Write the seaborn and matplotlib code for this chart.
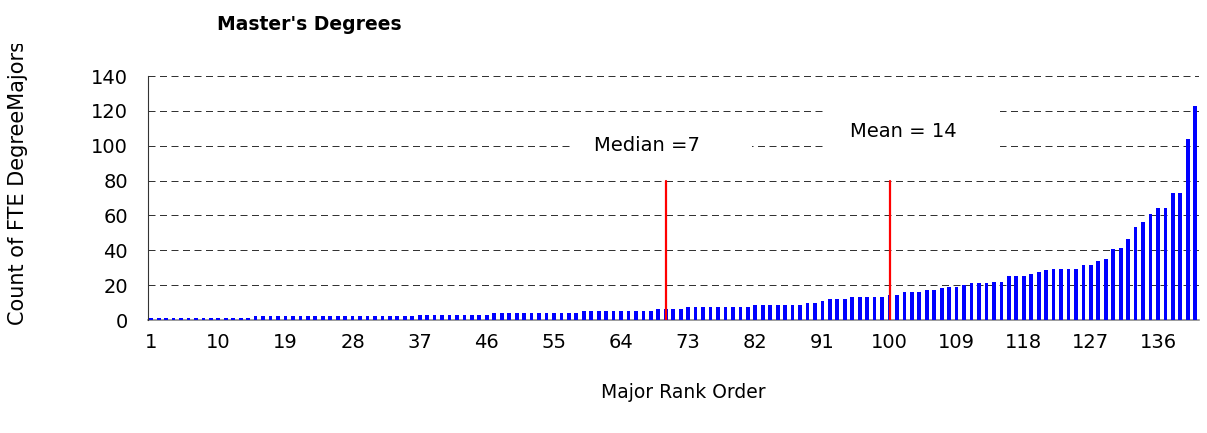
import matplotlib
matplotlib.use('Agg')
import matplotlib.pyplot as plt
import seaborn as sns
import pandas as pd
import numpy as np
from matplotlib.patches import Rectangle
from matplotlib.transforms import Bbox, TransformedBbox

# FTE degree-major counts, ranked from smallest to largest
conteos = [
    0.9, 0.9, 0.9, 0.9, 0.9, 0.9, 0.9, 0.9, 0.9, 0.9,
    0.9, 0.9, 0.9, 0.9, 2.1, 2.1, 2.1, 2.1, 2.1, 2.1,
    2.1, 2.1, 2.1, 2.1, 2.1, 2.1, 2.1, 2.1, 2.1, 2.1,
    2.1, 2.1, 2.1, 2.1, 2.1, 2.1, 3.1, 3.1, 3.1, 3.1,
    3.1, 3.1, 3.1, 3.1, 3.1, 3.1, 4.3, 4.3, 4.3, 4.3,
    4.3, 4.3, 4.3, 4.3, 4.3, 4.3, 4.3, 4.3, 5.4, 5.4,
    5.4, 5.4, 5.4, 5.4, 5.4, 5.4, 5.4, 5.4, 6.4, 6.4,
    6.4, 6.4, 7.6, 7.6, 7.6, 7.6, 7.6, 7.6, 7.6, 7.6,
    7.6, 8.7, 8.7, 8.7, 8.7, 8.7, 8.7, 8.7, 9.9, 9.9,
    11.0, 12.2, 12.2, 12.2, 13.3, 13.3, 13.3, 13.3, 13.3, 14.6,
    14.6, 15.8, 15.8, 15.8, 17.0, 17.0, 18.1, 18.8, 18.8, 20.0,
    21.2, 21.2, 21.2, 22.0, 22.0, 25.4, 25.4, 25.4, 26.5, 27.7,
    28.8, 29.4, 29.4, 29.4, 29.4, 31.7, 31.7, 34.0, 35.2, 41.0,
    41.5, 46.2, 53.1, 56.0, 60.6, 64.0, 64.0, 72.7, 72.7, 104.0,
    123.0,
]
rangos = list(range(1, len(conteos) + 1))
etiquetas_x = ['1', '10', '19', '28', '37', '46', '55', '64', '73',
               '82', '91', '100', '109', '118', '127', '136']
ticks_y = [0, 20, 40, 60, 80, 100, 120, 140]

# marcadores de mediana y media (rango, altura de la linea, texto)
rango_mediana = 70
rango_media = 100
altura_marcador = 80
texto_mediana = 'Median =7'
texto_media = 'Mean = 14'

df = pd.DataFrame({'rango': rangos, 'conteo': conteos})

W, H = 1207, 433
fig = plt.figure(figsize=(W / 100, H / 100), dpi=100)
sns.set_style('white')
plt.rcParams['font.family'] = ['DejaVu Sans']
plt.rcParams['text.color'] = 'black'

ax = fig.add_axes([147.5 / W, (H - 320) / H, (1199 - 147.5) / W, 244 / H])

sns.barplot(data=df, x='rango', y='conteo', color='#0000ff', saturation=1,
            width=0.5, errorbar=None, linewidth=0, ax=ax, zorder=2)

n = len(conteos)
ax.set_xlim(-0.5, n - 0.5)
ax.set_ylim(0, 140)

# grilla punteada
ax.set_axisbelow(True)
ax.yaxis.grid(True, color='#333333', linewidth=0.72, linestyle=(0, (7, 4.5)))
ax.xaxis.grid(False)

# ejes
for lado in ['top', 'right']:
    ax.spines[lado].set_visible(False)
ax.spines['left'].set_color('#333333')
ax.spines['left'].set_linewidth(0.8)
ax.spines['bottom'].set_color('#808080')
ax.spines['bottom'].set_linewidth(1.1)
ax.spines['bottom'].set_zorder(1.5)

pos_x = [rangos.index(int(e)) for e in etiquetas_x]
ax.set_xticks(pos_x)
ax.set_xticklabels(etiquetas_x, fontsize=14)
ax.set_xticks(np.arange(n + 1) - 0.5, minor=True)
ax.tick_params(axis='x', which='major', length=0, pad=9, labelcolor='black')
ax.tick_params(axis='x', which='minor', length=4.5, width=0.9, color='#555555', direction='out')
ax.set_yticks(ticks_y)
ax.set_yticklabels([str(t) for t in ticks_y], fontsize=14)
ax.tick_params(axis='y', length=4, width=0.8, color='#333333', pad=10, labelcolor='black')
ax.set_xlabel('')
ax.set_ylabel('')

# lineas rojas de mediana y media
for r in [rango_mediana, rango_media]:
    xr = rangos.index(r)
    ax.plot([xr, xr], [0, altura_marcador], color='#ff0000', linewidth=1.6, zorder=4)

# cajas blancas detras de los textos
ax.add_patch(Rectangle((56.2, 85), 24.4, 28.5, facecolor='white', edgecolor='none', zorder=1))
ax.add_patch(Rectangle((90.6, 86), 23.2, 46, facecolor='white', edgecolor='none', zorder=1))
ax.text(66.5, 100.4, texto_mediana, fontsize=14, ha='center', va='center',
        color='black', zorder=5)
ax.text(100.8, 108, texto_media, fontsize=14, ha='center', va='center',
        color='black', zorder=5)

# titulos
fig.text(217 / W, 1 - 24 / H, "Master's Degrees", fontsize=13.5, fontweight='bold',
         ha='left', va='center', color='black')
fig.text(683 / W, 1 - 392 / H, 'Major Rank Order', fontsize=13.5, ha='center',
         va='center', color='black')
ylab = fig.text(18 / W, 1 - 325 / H, 'Count of FTE DegreeMajors', fontsize=15,
                rotation=90, ha='center', va='bottom', color='black')
ylab.set_clip_box(TransformedBbox(Bbox([[0, 0], [1, 1 - 44 / H]]), fig.transFigure))
ylab.set_clip_on(True)

fig.savefig('out.png', dpi=100, facecolor='white')
